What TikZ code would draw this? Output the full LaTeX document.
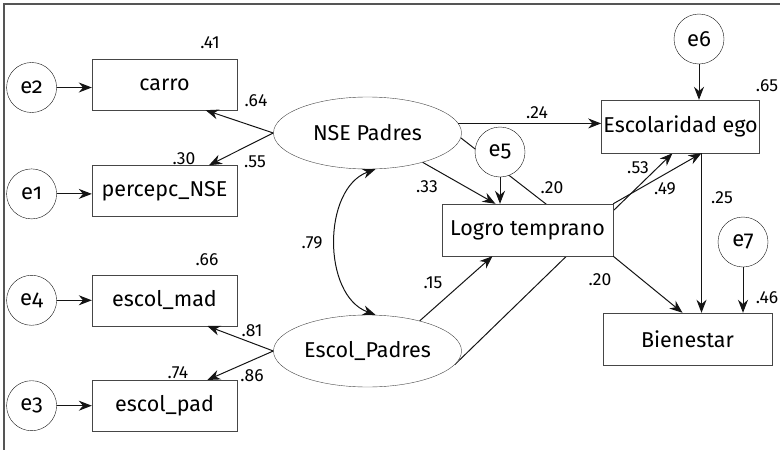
\documentclass[tikz,border=0pt]{standalone}
\usepackage{fontspec}
\setmainfont{Fira Sans}
\newfontfamily\errfont[Numbers=OldStyle]{Fira Sans}
\usepackage{tikz}
\usetikzlibrary{positioning,arrows.meta,shapes.geometric,backgrounds}
\definecolor{linegray}{RGB}{20,20,20}
\definecolor{boxgray}{RGB}{70,70,70}
\definecolor{framegray}{RGB}{85,85,85}

\begin{document}
\begin{tikzpicture}[
        x=1pt, y=-1pt,
        obs/.style={rectangle, draw=boxgray, fill=white, inner sep=2pt,
                   minimum width=145pt, minimum height=51pt, font=\fontsize{21.5}{24}\selectfont},
        lat/.style={ellipse, draw=boxgray, fill=white, inner sep=0pt,
                   minimum width=188pt, minimum height=72pt, font=\fontsize{21.5}{24}\selectfont},
        err/.style={circle, draw=linegray, fill=white, inner sep=0pt,
                   minimum size=50pt, font=\errfont\fontsize{22}{24}\selectfont},
        arrow/.style={-{Stealth[length=13pt, width=10pt]}, line width=1pt, linegray},
        dbl/.style={{Stealth[length=13pt, width=10pt]}-{Stealth[length=13pt, width=10pt]}, line width=1pt, linegray},
        coef/.style={inner sep=0pt, font=\fontsize{17.5}{20}\selectfont}
    ]
        \useasboundingbox (0,0) rectangle (780,450);
        \draw[framegray, line width=1.2pt] (4,450) -- (4,4) -- (780,4);

        % indicadores
        \node[obs] (carro) at (164.5,84.5) {carro};
        \node[obs, below=55pt of carro] (percepc) {percepc\_NSE};
        \node[obs, below=58pt of percepc] (escmad) {escol\_mad};
        \node[obs, below=54pt of escmad] (escpad) {escol\_pad};

        % errores de los indicadores
        \node[err, left=35pt of carro, yshift=-3pt] (e2) {e2};
        \node[err, left=35pt of percepc, yshift=-3pt] (e1) {e1};
        \node[err, left=35pt of escmad] (e4) {e4};
        \node[err, left=35pt of escpad] (e3) {e3};

        % latentes
        \node[lat] (nse) at (367.5,133) {NSE Padres};
        \node[lat] (escp) at (367.5,351) {Escol\_Padres};

        % variables endogenas
        \node[obs, minimum width=171pt, minimum height=52pt] (logro) at (527.5,230) {Logro temprano};
        \node[obs, minimum width=155pt, minimum height=53pt] (esc) at (680.5,126.5) {Escolaridad ego};
        \node[obs, minimum width=169pt, minimum height=52pt] (bien) at (687.5,339) {Bienestar};
        \node[err] (e5) at (500,152) {e5};
        \node[err] (e6) at (699,39) {e6};
        \node[err] (e7) at (743,242) {e7};

        % efectos directos que pasan por detras
        \begin{scope}[on background layer]
            \draw[line width=1pt, linegray] (nse.-3) -- (logro.south east);
            \draw[arrow] (escp.-9) -- ([xshift=-8pt]esc.south);
        \end{scope}

        % cargas factoriales
        \draw[arrow] (nse.west) -- (carro.-32);
        \draw[arrow] (nse.west) -- (percepc.30);
        \draw[arrow] (escp.west) -- (escmad.-31);
        \draw[arrow] (escp.west) -- (escpad.31);
        \draw[arrow] (e2) -- (e2 -| carro.west);
        \draw[arrow] (e1) -- (e1 -| percepc.west);
        \draw[arrow] (e4) -- (e4 -| escmad.west);
        \draw[arrow] (e3) -- (e3 -| escpad.west);

        % modelo estructural
        \draw[dbl] ([xshift=8pt]nse.south) to[out=200, in=160] ([xshift=8pt]escp.north);
        \draw[arrow] (nse.6) -- (nse.6 -| esc.west);
        \draw[arrow] (nse.-28) -- ([xshift=-32pt]logro.north);
        \draw[arrow] (e5) -- (e5 |- logro.north);
        \draw[arrow] (escp.30) -- ([xshift=-35pt]logro.south);
        \draw[arrow] (logro.north east) -- ([xshift=21pt]esc.south);
        \draw[arrow] (logro.south east) -- ([xshift=-5pt]bien.north);
        \draw[arrow] ([xshift=21pt]esc.south) -- ([xshift=21pt]esc.south |- bien.north);
        \draw[arrow] (e6) -- (e6 |- esc.north);
        \draw[arrow] (e7) -- (e7 |- bien.north);

        % coeficientes
        \node[coef] (r2carro) at (210,43) {.41};
        \node[coef] (r2perc) at (184,159) {.30};
        \node[coef] (lcarro) at (256,101) {.64};
        \node[coef] (lperc) at (255,162) {.55};
        \node[coef] (r2mad) at (207,260) {.66};
        \node[coef] (r2pad) at (178,373) {.74};
        \node[coef] (lmad) at (252,331) {.81};
        \node[coef] (lpad) at (252,376) {.86};
        \node[coef] (bnseesc) at (537,113) {.24};
        \node[coef] (r2esc) at (767,86) {.65};
        \node[coef] (bnselog) at (427,187) {.33};
        \node[coef] (bnsebien) at (552,188) {.20};
        \node[coef] (bescpesc) at (638,168) {.53};
        \node[coef] (blogesc) at (665,189) {.49};
        \node[coef] (bescbien) at (722,198) {.25};
        \node[coef] (bescplog) at (433,283) {.15};
        \node[coef] (cov) at (312,243) {.79};
        \node[coef] (blogbien) at (600,280) {.20};
        \node[coef] (r2bien) at (767,298) {.46};
    \end{tikzpicture}
\end{document}
